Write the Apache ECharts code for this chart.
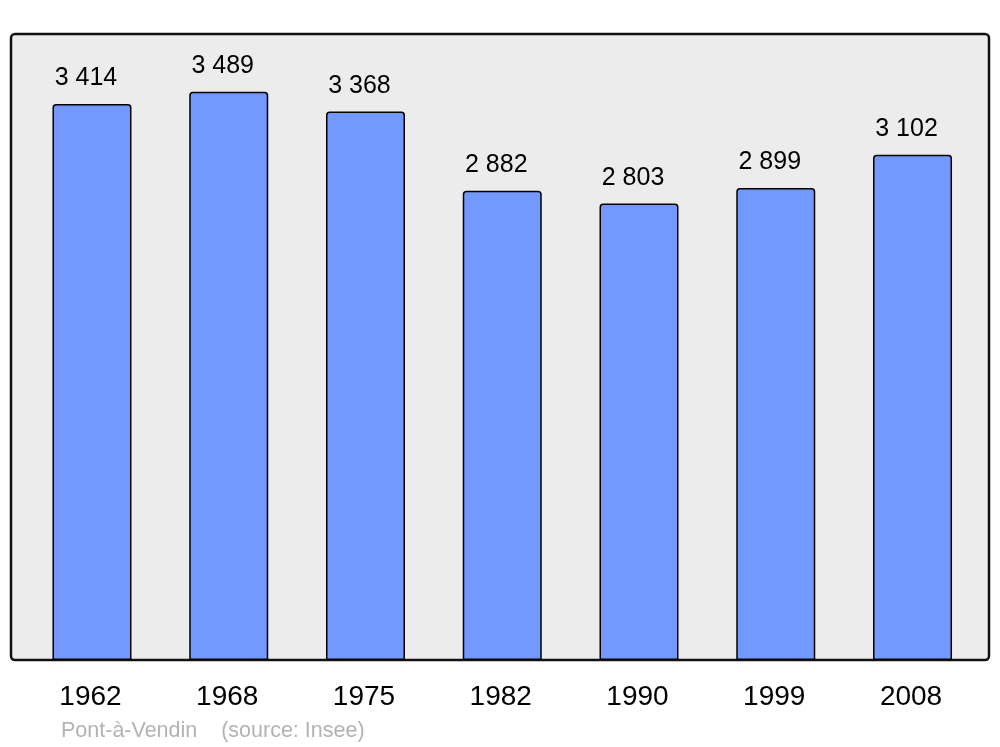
<!DOCTYPE html>
<html>
<head>
<meta charset="utf-8">
<script src="https://cdn.jsdelivr.net/npm/echarts@6/dist/echarts.min.js"></script>
<style>
html,body{margin:0;padding:0;background:#fff;}
#chart{width:1000px;height:747px;}
</style>
</head>
<body>
<div id="chart"></div>
<script>
const years = ['1962', '1968', '1975', '1982', '1990', '1999', '2008'];
const population = [3414, 3489, 3368, 2882, 2803, 2899, 3102];
const footerText = 'Pont-à-Vendin    (source: Insee)';

function fmt(v) {
  return String(v).replace(/\B(?=(\d{3})+(?!\d))/g, ' ');
}

const chart = echarts.init(document.getElementById('chart'), null, {renderer: 'canvas'});
chart.setOption({
  animation: false,
  backgroundColor: '#ffffff',
  textStyle: {fontFamily: '"Liberation Sans", Arial, sans-serif'},
  title: {
    text: footerText,
    left: 61,
    top: 720,
    padding: 0,
    textStyle: {fontSize: 21.5, fontWeight: 'normal', color: '#b3b3b3', fontFamily: '"Liberation Sans", Arial, sans-serif'}
  },
  graphic: [{
    type: 'rect',
    z: -10,
    silent: true,
    shape: {x: 11, y: 34, width: 978, height: 626, r: 4},
    style: {fill: '#ececec', stroke: '#111111', lineWidth: 2.5}
  }],
  grid: {left: 23.6, right: 19.1, top: 34, bottom: 87, containLabel: false},
  xAxis: {
    type: 'category',
    data: years,
    axisLine: {show: false},
    axisTick: {show: false},
    axisLabel: {margin: 23, fontSize: 28, color: '#000', padding: [0, 3, 0, 0], fontFamily: '"Liberation Sans", Arial, sans-serif'}
  },
  yAxis: {
    type: 'value',
    min: 0,
    max: 3844,
    show: false,
    splitLine: {show: false}
  },
  series: [{
    type: 'bar',
    data: population,
    barWidth: 79,
    itemStyle: {color: '#7399ff', borderColor: '#000', borderWidth: 1.5, borderRadius: [3, 3, 0, 0]},
    label: {
      show: true,
      position: 'top',
      distance: 13,
      offset: [-6, 0],
      fontSize: 25,
      color: '#000',
      fontFamily: '"Liberation Sans", Arial, sans-serif',
      formatter: p => fmt(p.value)
    }
  }]
});
</script>
</body>
</html>
